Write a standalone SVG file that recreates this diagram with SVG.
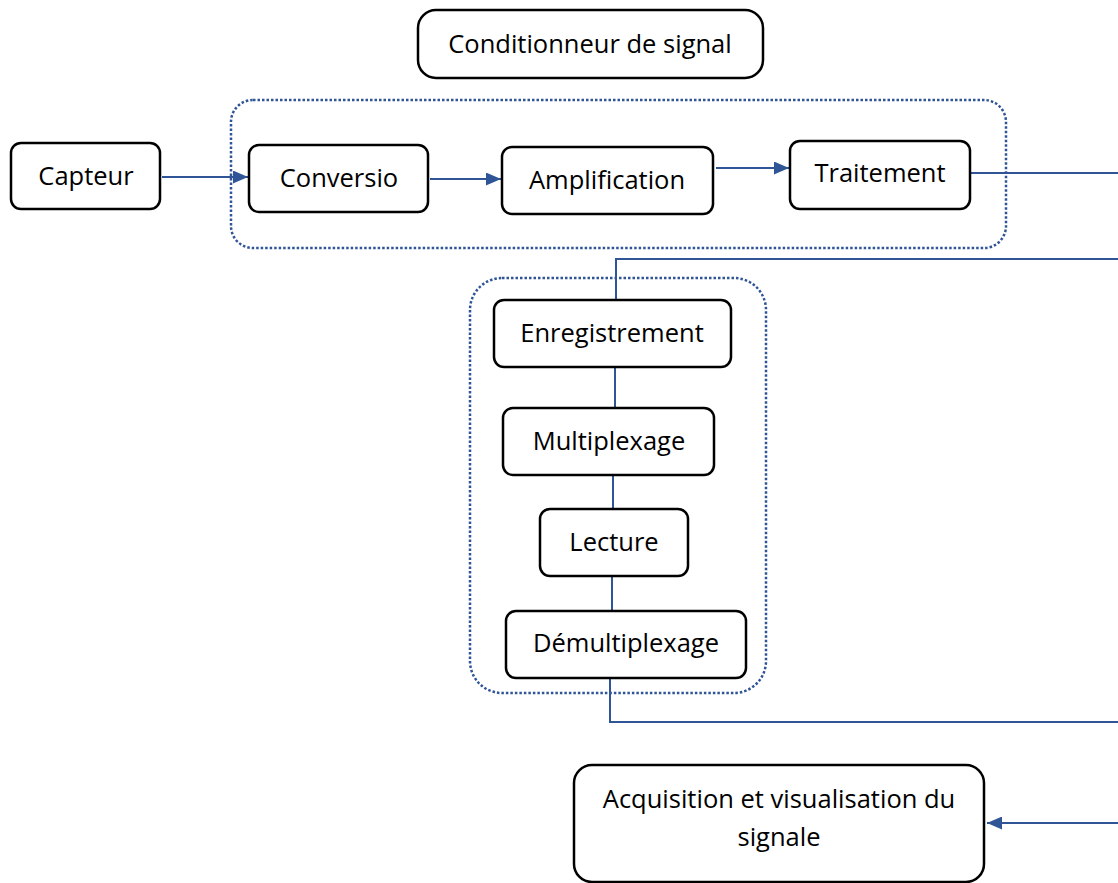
<svg xmlns="http://www.w3.org/2000/svg" width="1118" height="883" viewBox="0 0 1118 883">
<defs>
<marker id="ah" viewBox="0 0 10 10" refX="10" refY="5" markerWidth="15" markerHeight="13" markerUnits="userSpaceOnUse" orient="auto-start-reverse" preserveAspectRatio="none">
<path d="M0,0 L10,5 L0,10 z" fill="#2F5597"/>
</marker>
<style>
.box{fill:#fff;stroke:#000;stroke-width:2.5}
.grp{fill:none;stroke:#2F5597;stroke-width:2.5;stroke-dasharray:2.5 2}
.ln{fill:none;stroke:#2F5597;stroke-width:2}
.t{font-family:"Open Sans","Noto Sans",sans-serif;font-size:25.5px;fill:#000;text-anchor:middle}
</style>
</defs>
<rect width="1118" height="883" fill="#fff"/>
<g id="groups">
<rect class="grp" x="231" y="100" width="775" height="148" rx="22"/>
<rect class="grp" x="470" y="278" width="296" height="415" rx="32"/>
</g>
<g id="connectors">
<line class="ln" x1="162" y1="177" x2="248" y2="177" marker-end="url(#ah)"/>
<line class="ln" x1="430" y1="179" x2="501" y2="179" marker-end="url(#ah)"/>
<line class="ln" x1="716" y1="168" x2="789" y2="168" marker-end="url(#ah)"/>
<line class="ln" x1="971" y1="173" x2="1118" y2="173"/>
<polyline class="ln" points="1118,259 616,259 616,299"/>
<line class="ln" x1="615" y1="368" x2="615" y2="408"/>
<line class="ln" x1="613" y1="476" x2="613" y2="509"/>
<line class="ln" x1="612" y1="577" x2="612" y2="611"/>
<polyline class="ln" points="610,679 610,722 1118,722"/>
<line class="ln" x1="1118" y1="823" x2="987" y2="823" marker-end="url(#ah)"/>
</g>
<g id="conditionneur"><rect class="box" x="418" y="10" width="345" height="68" rx="18"/><text class="t" x="590" y="53">Conditionneur de signal</text></g>
<g id="capteur"><rect class="box" x="11" y="143" width="149" height="66" rx="10"/><text class="t" x="86" y="185">Capteur</text></g>
<g id="conversio"><rect class="box" x="249" y="145" width="179" height="67" rx="10"/><text class="t" x="339" y="187">Conversio</text></g>
<g id="amplification"><rect class="box" x="502" y="147" width="211" height="67" rx="10"/><text class="t" x="607" y="189">Amplification</text></g>
<g id="traitement"><rect class="box" x="790" y="141" width="180" height="68" rx="10"/><text class="t" x="880" y="182">Traitement</text></g>
<g id="enregistrement"><rect class="box" x="494" y="300" width="237" height="67" rx="10"/><text class="t" x="612" y="342">Enregistrement</text></g>
<g id="multiplexage"><rect class="box" x="503" y="408" width="211" height="67" rx="10"/><text class="t" x="609" y="450">Multiplexage</text></g>
<g id="lecture"><rect class="box" x="540" y="509" width="148" height="67" rx="10"/><text class="t" x="614" y="551">Lecture</text></g>
<g id="demultiplexage"><rect class="box" x="506" y="611" width="240" height="67" rx="10"/><text class="t" x="626" y="652">Démultiplexage</text></g>
<g id="acquisition"><rect class="box" x="574" y="765" width="410" height="117" rx="18"/><text class="t" x="779" y="808">Acquisition et visualisation du</text><text class="t" x="779" y="846">signale</text></g>
</svg>
